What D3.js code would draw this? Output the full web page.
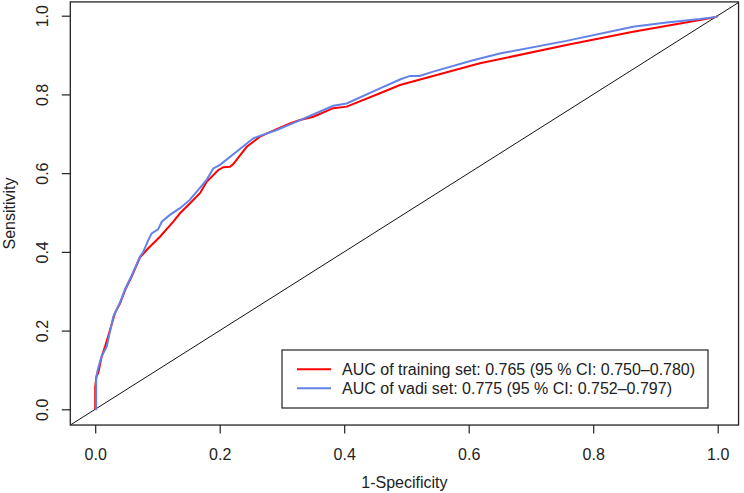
<!DOCTYPE html>
<html>
<head>
<meta charset="utf-8">
<script src="https://cdn.jsdelivr.net/npm/d3@7"></script>
<style>
  body { margin: 0; background: #fff; }
  text { font-family: "Liberation Sans", Arial, sans-serif; fill: #222; }
</style>
</head>
<body>
<script>
// ROC points (1-specificity, sensitivity)
var trainFpr = [0, 0, 0.002, 0.005, 0.0104, 0.0157, 0.0238, 0.0318, 0.04, 0.048, 0.0586, 0.072, 0.0853, 0.0988, 0.104, 0.1255, 0.1362, 0.152, 0.1683, 0.179, 0.1978, 0.2058, 0.2165, 0.2218, 0.2434, 0.2647, 0.2861, 0.3129, 0.329, 0.3504, 0.3825, 0.404, 0.4575, 0.4896, 0.618, 0.757, 0.864, 0.9716, 0.998, 1];
var trainTpr = [0, 0.057, 0.083, 0.093, 0.134, 0.159, 0.2015, 0.245, 0.269, 0.303, 0.337, 0.386, 0.409, 0.430, 0.4385, 0.4766, 0.498, 0.523, 0.549, 0.578, 0.608, 0.615, 0.616, 0.623, 0.667, 0.6926, 0.708, 0.7266, 0.735, 0.7434, 0.765, 0.769, 0.803, 0.824, 0.879, 0.9255, 0.959, 0.989, 0.997, 1];

var validFpr = [0, 0.0015, 0.0015, 0.004, 0.0085, 0.0104, 0.0185, 0.029, 0.04, 0.048, 0.0586, 0.072, 0.0773, 0.0853, 0.0907, 0.101, 0.107, 0.120, 0.1362, 0.152, 0.179, 0.1897, 0.2005, 0.254, 0.2916, 0.3237, 0.3825, 0.404, 0.4575, 0.4896, 0.5057, 0.521, 0.543, 0.607, 0.650, 0.757, 0.864, 0.918, 0.9716, 0.998, 1];
var validTpr = [0, 0, 0.08, 0.1, 0.125, 0.135, 0.159, 0.235, 0.272, 0.305, 0.34, 0.388, 0.400, 0.430, 0.447, 0.457, 0.4766, 0.494, 0.511, 0.532, 0.583, 0.612, 0.621, 0.6885, 0.7096, 0.7307, 0.771, 0.777, 0.8155, 0.838, 0.847, 0.847, 0.858, 0.887, 0.904, 0.936, 0.972, 0.983, 0.9916, 0.997, 1];

var xTicks = [0, 0.2, 0.4, 0.6, 0.8, 1.0];
var yTicks = [0, 0.2, 0.4, 0.6, 0.8, 1.0];
var legendLabels = ["AUC of training set: 0.765 (95 % CI: 0.750\u20130.780)",
                    "AUC of vadi set: 0.775 (95 % CI: 0.752\u20130.797)"];
var seriesColors = ["#ff0000", "#6282e8"];

var width = 744, height = 493;
var xlim = [-0.04, 1.0335], ylim = [-0.04, 1.035];

var xScale = d3.scaleLinear().domain([0, 1]).range([95.2, 717.7]);
var yScale = d3.scaleLinear().domain([0, 1]).range([409.3, 15.7]);

var svg = d3.select("body").append("svg")
    .attr("width", width)
    .attr("height", height);

var boxL = xScale(xlim[0]), boxR = xScale(xlim[1]);
var boxT = yScale(ylim[1]), boxB = yScale(ylim[0]);

svg.append("defs").append("clipPath").attr("id", "plotClip")
  .append("rect")
    .attr("x", boxL).attr("y", boxT)
    .attr("width", boxR - boxL).attr("height", boxB - boxT);

var plot = svg.append("g").attr("clip-path", "url(#plotClip)");

// chance diagonal across the whole region
plot.append("line")
    .attr("x1", xScale(xlim[0])).attr("y1", yScale(xlim[0]))
    .attr("x2", xScale(xlim[1])).attr("y2", yScale(xlim[1]))
    .attr("stroke", "#111").attr("stroke-width", 1);

var line = d3.line()
    .x(function(d) { return xScale(d[0]); })
    .y(function(d) { return yScale(d[1]); });

var trainPts = trainFpr.map(function(v, i) { return [v, trainTpr[i]]; });
var validPts = validFpr.map(function(v, i) { return [v, validTpr[i]]; });

plot.append("path").datum(trainPts)
    .attr("d", line).attr("fill", "none")
    .attr("stroke", seriesColors[0]).attr("stroke-width", 2);

plot.append("path").datum(validPts)
    .attr("d", line).attr("fill", "none")
    .attr("stroke", seriesColors[1]).attr("stroke-width", 2);

// frame
svg.append("rect")
    .attr("x", boxL).attr("y", boxT)
    .attr("width", boxR - boxL).attr("height", boxB - boxT)
    .attr("fill", "none").attr("stroke", "#222").attr("stroke-width", 1.3);

// axes
var xAxis = svg.append("g")
    .attr("transform", "translate(0," + boxB + ")")
    .call(d3.axisBottom(xScale).tickValues(xTicks).tickFormat(d3.format(".1f"))
          .tickSize(8.5).tickPadding(15));
var yAxis = svg.append("g")
    .attr("transform", "translate(" + boxL + ",0)")
    .call(d3.axisLeft(yScale).tickValues(yTicks).tickFormat(d3.format(".1f"))
          .tickSize(8.5));

[xAxis, yAxis].forEach(function(a) {
  a.select(".domain").remove();
  a.selectAll(".tick line").attr("stroke", "#222").attr("stroke-width", 1.2);
  a.selectAll(".tick text").attr("font-size", 16).attr("fill", "#222")
    .attr("font-family", "Liberation Sans, Arial, sans-serif");
});

yAxis.selectAll(".tick text")
    .attr("x", null).attr("dy", null)
    .attr("text-anchor", "middle")
    .attr("transform", "translate(-22,0) rotate(-90)");

svg.append("text")
    .attr("x", (boxL + boxR) / 2).attr("y", 488)
    .attr("text-anchor", "middle").attr("font-size", 16)
    .text("1-Specificity");

svg.append("text")
    .attr("transform", "translate(15," + ((boxT + boxB) / 2) + ") rotate(-90)")
    .attr("text-anchor", "middle").attr("font-size", 16)
    .text("Sensitivity");

// legend
var legend = svg.append("g");
legend.append("rect")
    .attr("x", 282).attr("y", 350)
    .attr("width", 426).attr("height", 58)
    .attr("fill", "#fff").attr("stroke", "#222").attr("stroke-width", 1.2);

legendLabels.forEach(function(lab, i) {
  var ly = 369.3 + i * 19;
  legend.append("line")
      .attr("x1", 297).attr("x2", 331)
      .attr("y1", ly).attr("y2", ly)
      .attr("stroke", seriesColors[i]).attr("stroke-width", 2);
  legend.append("text")
      .attr("x", 342).attr("y", ly + 5.6)
      .attr("font-size", 16)
      .text(lab);
});
</script>
</body>
</html>
